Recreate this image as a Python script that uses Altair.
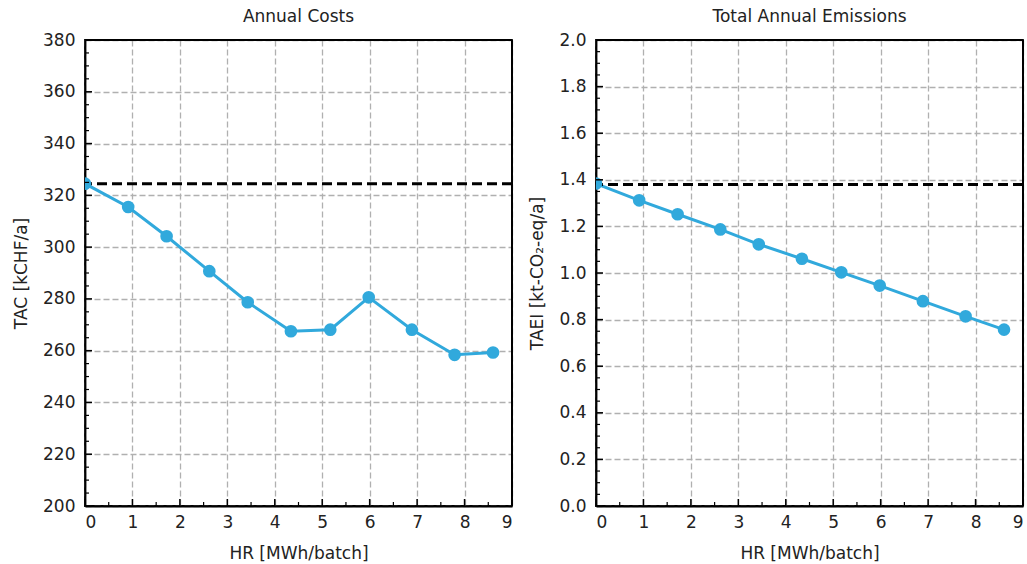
import altair as alt
import pandas as pd

# ---- data ----
hr = [0.0, 0.91, 1.72, 2.62, 3.43, 4.34, 5.17, 5.98, 6.89, 7.79, 8.6]
tac = [324.5, 315.5, 304.2, 290.7, 278.7, 267.5, 268.1, 280.6, 268.1, 258.4, 259.3]
taei = [1.384, 1.312, 1.252, 1.187, 1.123, 1.061, 1.003, 0.946, 0.879, 0.814, 0.757]
tac_ref = 324.5
taei_ref = 1.38

x_major = list(range(0, 10))
x_minor = [0.5, 1.5, 2.5, 3.5, 4.5, 5.5, 6.5, 7.5, 8.5]
tac_major = list(range(200, 381, 20))
tac_minor = [v for v in range(200, 381, 5) if v % 20 != 0]
taei_major = [0.0, 0.2, 0.4, 0.6, 0.8, 1.0, 1.2, 1.4, 1.6, 1.8, 2.0]
taei_minor = [round(i * 0.05, 2) for i in range(41) if i % 4 != 0]

W, H = 427, 466
LINE_COLOR = "#31a9dc"
FONT = "DejaVu Sans"
TXT = "#222222"

df = pd.DataFrame({"HR": hr, "TAC": tac, "TAEI": taei})


def panel(field, title, ytitle, ydomain, ymajor, yminor, ref, yfmt):
    xs = alt.Scale(domain=[0, 9], nice=False, zero=False)
    ys = alt.Scale(domain=ydomain, nice=False, zero=False)
    xaxis = alt.Axis(values=x_major, title="HR [MWh/batch]", ticks=False,
                     grid=True, gridColor="#b0b0b0", gridDash=[6, 3], gridWidth=1.3,
                     labelPadding=8, titlePadding=15, format="d")
    yaxis = alt.Axis(values=ymajor, title=ytitle, ticks=False, format=yfmt,
                     grid=True, gridColor="#b0b0b0", gridDash=[6, 3], gridWidth=1.3,
                     labelPadding=10, titlePadding=12)
    base = alt.Chart(df)
    line = base.mark_line(color=LINE_COLOR, strokeWidth=3, clip=True).encode(
        x=alt.X("HR:Q", scale=xs, axis=xaxis),
        y=alt.Y(f"{field}:Q", scale=ys, axis=yaxis),
    )
    pts = base.mark_circle(color=LINE_COLOR, size=160, opacity=1, clip=True).encode(
        x=alt.X("HR:Q", scale=xs), y=alt.Y(f"{field}:Q", scale=ys)
    )
    refline = alt.Chart(pd.DataFrame({"r": [ref]})).mark_rule(
        color="black", strokeWidth=3, strokeDash=[10, 5]
    ).encode(y=alt.Y("r:Q", scale=ys))

    ymaj = alt.Chart(pd.DataFrame({"v": ymajor})).mark_rule(color="black", strokeWidth=1.5).encode(
        y=alt.Y("v:Q", scale=ys), x=alt.value(0), x2=alt.value(7))
    ymin = alt.Chart(pd.DataFrame({"v": yminor})).mark_rule(color="black", strokeWidth=1.2).encode(
        y=alt.Y("v:Q", scale=ys), x=alt.value(0), x2=alt.value(4))
    xmaj = alt.Chart(pd.DataFrame({"v": x_major})).mark_rule(color="black", strokeWidth=1.5).encode(
        x=alt.X("v:Q", scale=xs), y=alt.value(H), y2=alt.value(H - 7))
    xmin = alt.Chart(pd.DataFrame({"v": x_minor})).mark_rule(color="black", strokeWidth=1.2).encode(
        x=alt.X("v:Q", scale=xs), y=alt.value(H), y2=alt.value(H - 4))
    # top and right frame lines drawn above the grid
    top = alt.Chart(df).mark_rule(color="black", strokeWidth=1.8).encode(
        x=alt.value(0), x2=alt.value(W), y=alt.value(0))
    rgt = alt.Chart(df).mark_rule(color="black", strokeWidth=1.8).encode(
        x=alt.value(W), y=alt.value(0), y2=alt.value(H))

    return alt.layer(line, refline, pts, ymaj, ymin, xmaj, xmin, top, rgt).properties(
        width=W, height=H,
        title=alt.TitleParams(title, fontSize=17, fontWeight="normal", font=FONT,
                              color=TXT, offset=5),
    )


left = panel("TAC", "Annual Costs", "TAC [kCHF/a]", [200, 380], tac_major, tac_minor, tac_ref, "d")
right = panel("TAEI", "Total Annual Emissions", "TAEI [kt-CO\u2082-eq/a]", [0, 2], taei_major,
              taei_minor, taei_ref, ".1f")

chart = alt.hconcat(left, right, spacing=13).properties(
    padding={"left": 11, "top": 7, "right": 0, "bottom": 0},
    background="white",
).configure_view(
    stroke="black", strokeWidth=1.8
).configure_axis(
    labelFont=FONT, titleFont=FONT, labelFontSize=17, titleFontSize=17,
    labelColor=TXT, titleColor=TXT, titleFontWeight="normal",
    domainColor="black", domainWidth=1.8,
)

chart.save("out.html", embed_options={"renderer": "svg", "actions": False})
